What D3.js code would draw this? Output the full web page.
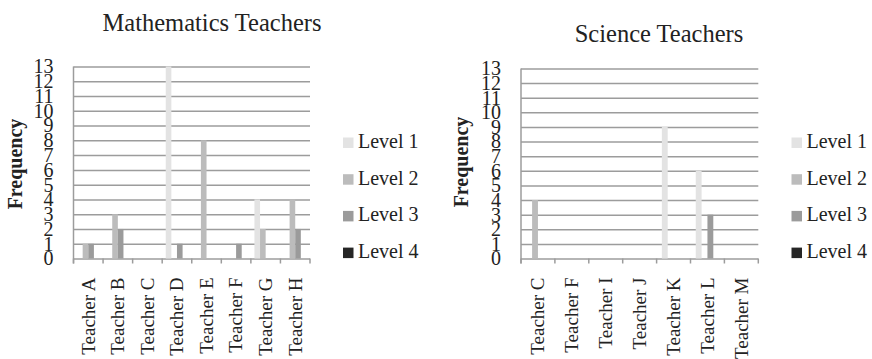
<!DOCTYPE html>
<html>
<head>
<meta charset="utf-8">
<script src="https://cdn.jsdelivr.net/npm/d3@7"></script>
<style>
  body { margin: 0; background: #fff; }
  text { font-family: "Liberation Serif", "Times New Roman", serif; fill: #222; }
</style>
</head>
<body>
<div id="my_dataviz"></div>
<script>
// data
var levels = ["Level 1", "Level 2", "Level 3", "Level 4"];
var levelColors = ["#e3e3e3", "#bcbcbc", "#9b9b9b", "#262626"];
var yTicks = [0, 1, 2, 3, 4, 5, 6, 7, 8, 9, 10, 11, 12, 13];

var mathTeachers = ["Teacher A", "Teacher B", "Teacher C", "Teacher D", "Teacher E", "Teacher F", "Teacher G", "Teacher H"];
var mathLevel1 = [0, 0, 0, 13, 0, 0, 4, 0];
var mathLevel2 = [1, 3, 0, 0, 8, 0, 2, 4];
var mathLevel3 = [1, 2, 0, 1, 0, 1, 0, 2];
var mathLevel4 = [0, 0, 0, 0, 0, 0, 0, 0];

var sciTeachers = ["Teacher C", "Teacher F", "Teacher I", "Teacher J", "Teacher K", "Teacher L", "Teacher M"];
var sciLevel1 = [0, 0, 0, 0, 9, 6, 0];
var sciLevel2 = [4, 0, 0, 0, 0, 0, 0];
var sciLevel3 = [0, 0, 0, 0, 0, 3, 0];
var sciLevel4 = [0, 0, 0, 0, 0, 0, 0];

var serif = "'Liberation Serif', 'Times New Roman', serif";

var svg = d3.select("#my_dataviz")
  .append("svg")
  .attr("width", 872)
  .attr("height", 359)
  .style("font-family", serif);

var gridColor = "#9c9c9c";

function drawChart(opt) {
  var cats = opt.cats;
  var series = opt.series;

  var x0 = d3.scaleBand()
    .domain(cats)
    .range([opt.left, opt.right])
    .paddingInner(opt.pad)
    .paddingOuter(opt.pad / 2);
  var x1 = d3.scaleBand()
    .domain(levels)
    .range([0, x0.bandwidth()]);
  var y = d3.scaleLinear()
    .domain([0, 13])
    .range([opt.bottom, opt.top]);

  // gridlines + y labels
  var yAxis = svg.append("g")
    .attr("transform", "translate(" + opt.left + ",0)")
    .call(d3.axisLeft(y).tickValues(yTicks).tickSize(-(opt.right - opt.left)).tickPadding(20))
    .attr("font-family", serif)
    .attr("font-size", 20);
  yAxis.select(".domain").remove();
  yAxis.selectAll("line").attr("stroke", gridColor).attr("stroke-width", 1.5);
  yAxis.selectAll("text").attr("fill", "#222");

  // vertical axis line
  svg.append("line")
    .attr("x1", opt.left).attr("x2", opt.left)
    .attr("y1", y(13)).attr("y2", y(0) + 5)
    .attr("stroke", gridColor).attr("stroke-width", 1.5);

  // category boundary ticks
  var half = (x0.step() - x0.bandwidth()) / 2;
  var bounds = cats.map(function(c) { return x0(c) - half; }).concat([opt.right]);
  svg.selectAll(null)
    .data(bounds)
    .enter()
    .append("line")
      .attr("x1", function(d) { return d; })
      .attr("x2", function(d) { return d; })
      .attr("y1", y(0))
      .attr("y2", y(0) + 5)
      .attr("stroke", gridColor)
      .attr("stroke-width", 1.5);

  // bars
  var rows = [];
  cats.forEach(function(c, i) {
    levels.forEach(function(l, j) {
      rows.push({cat: c, level: l, value: series[j][i], color: levelColors[j]});
    });
  });
  svg.selectAll(null)
    .data(rows.filter(function(d) { return d.value > 0; }))
    .enter()
    .append("rect")
      .attr("x", function(d) { return x0(d.cat) + x1(d.level); })
      .attr("y", function(d) { return y(d.value); })
      .attr("width", x1.bandwidth())
      .attr("height", function(d) { return y(0) - y(d.value); })
      .attr("fill", function(d) { return d.color; });

  // x labels
  var xAxis = svg.append("g")
    .attr("transform", "translate(0," + y(0) + ")")
    .call(d3.axisBottom(x0).tickSize(0).tickPadding(0))
    .attr("font-family", serif)
    .attr("font-size", 19);
  xAxis.select(".domain").remove();
  xAxis.selectAll("text")
    .attr("fill", "#222")
    .attr("transform", "rotate(-90)")
    .attr("x", -19)
    .attr("y", 0)
    .attr("dy", "0.33em")
    .style("text-anchor", "end");

  // y title
  svg.append("text")
    .attr("transform", "translate(" + opt.yTitleX + "," + opt.yTitleY + ") rotate(-90)")
    .attr("text-anchor", "middle")
    .style("font-size", "20px")
    .style("font-weight", "bold")
    .text("Frequency");

  // chart title
  svg.append("text")
    .attr("x", opt.titleX)
    .attr("y", opt.titleY)
    .attr("text-anchor", "middle")
    .style("font-size", "24.5px")
    .text(opt.title);

  // legend
  var leg = svg.selectAll(null)
    .data(levels)
    .enter()
    .append("g")
      .attr("transform", function(d, i) { return "translate(" + opt.legX + "," + (148 + i * 36.7) + ")"; });
  leg.append("rect")
    .attr("x", 0).attr("y", -10.5)
    .attr("width", 10.5).attr("height", 10.5)
    .attr("fill", function(d, i) { return levelColors[i]; });
  leg.append("text")
    .attr("x", 15)
    .attr("y", 0)
    .style("font-size", "20px")
    .text(function(d) { return d; });
}

drawChart({
  cats: mathTeachers,
  series: [mathLevel1, mathLevel2, mathLevel3, mathLevel4],
  left: 73.5, right: 310, top: 66.5, bottom: 258.5, pad: 0.24,
  title: "Mathematics Teachers", titleX: 212, titleY: 31,
  yTitleX: 22, yTitleY: 164,
  legX: 343
});

drawChart({
  cats: sciTeachers,
  series: [sciLevel1, sciLevel2, sciLevel3, sciLevel4],
  left: 521, right: 758.3, top: 68.5, bottom: 258.5, pad: 0.31,
  title: "Science Teachers", titleX: 659, titleY: 42,
  yTitleX: 468, yTitleY: 162,
  legX: 791.5
});
</script>
</body>
</html>
